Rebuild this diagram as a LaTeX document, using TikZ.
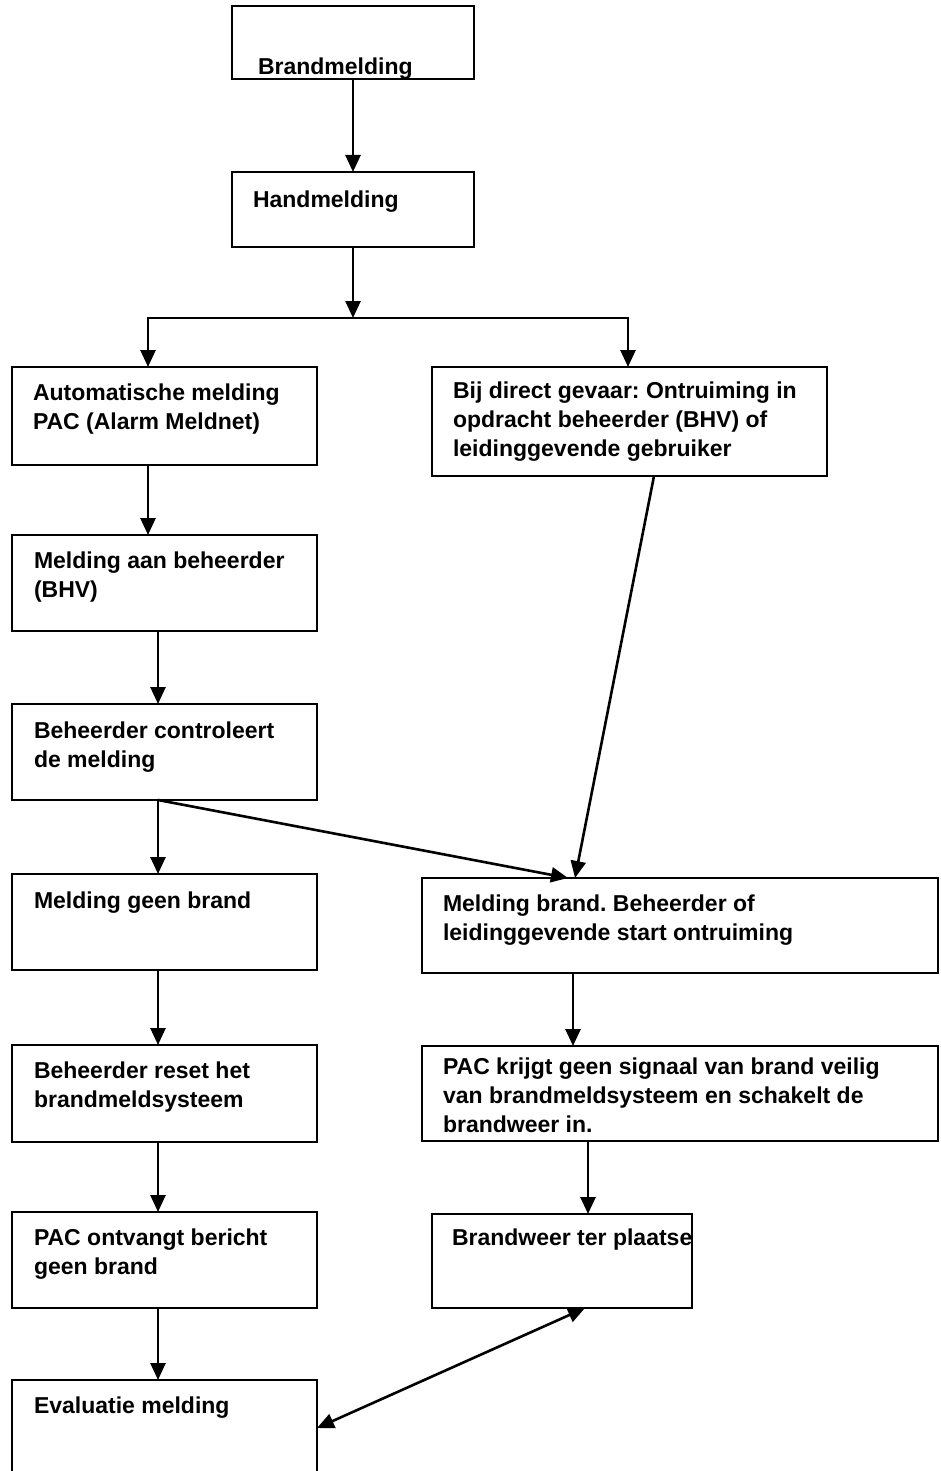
\documentclass[tikz,border=0pt]{standalone}
\usepackage{fontspec}
\setmainfont{Liberation Sans}
\usetikzlibrary{arrows.meta}
\frenchspacing
\begin{document}
\begin{tikzpicture}[x=1pt,y=-1pt,
  box/.style={draw, line width=2pt, rectangle, inner sep=0pt, outer sep=0pt, anchor=north west},
  txt/.style={anchor=base west, inner sep=0pt, outer sep=0pt, align=left, font=\bfseries\fontsize{23}{29}\selectfont\frenchspacing},
  arr/.style={line width=2.6pt, -{Triangle[length=17pt,width=15pt]}},
  dbl/.style={line width=2.6pt, {Triangle[length=17pt,width=15pt]}-{Triangle[length=17pt,width=15pt]}}]
\useasboundingbox[fill=white] (0,0) rectangle (940,1471);
% boxes
\node[box, minimum width=242pt, minimum height=73pt]  (b1)  at (232,6) {};
\node[box, minimum width=242pt, minimum height=75pt]  (b2)  at (232,172) {};
\node[box, minimum width=305pt, minimum height=98pt]  (b3)  at (12,367) {};
\node[box, minimum width=395pt, minimum height=109pt] (b4)  at (432,367) {};
\node[box, minimum width=305pt, minimum height=96pt]  (b5)  at (12,535) {};
\node[box, minimum width=305pt, minimum height=96pt]  (b6)  at (12,704) {};
\node[box, minimum width=305pt, minimum height=96pt]  (b7)  at (12,874) {};
\node[box, minimum width=516pt, minimum height=95pt]  (b8)  at (422,878) {};
\node[box, minimum width=305pt, minimum height=97pt]  (b9)  at (12,1045) {};
\node[box, minimum width=516pt, minimum height=95pt]  (b10) at (422,1046) {};
\node[box, minimum width=305pt, minimum height=96pt]  (b11) at (12,1212) {};
\node[box, minimum width=260pt, minimum height=94pt]  (b12) at (432,1214) {};
\node[box, minimum width=305pt, minimum height=96pt]  (b13) at (12,1380) {};
% texts (anchor = baseline of the last line)
\begin{scope}
\clip (b1.south west) rectangle (b1.north east);
\node[txt] (t1) at (258,75) {Brandmelding};
\end{scope}
\draw[line width=2pt] (b1.south west) -- (b1.south east);
\node[txt] (t2)  at (253,208) {Handmelding};
\node[txt] (t3)  at (33,429) {Automatische melding\\PAC (Alarm Meldnet)};
\node[txt] (t4)  at (453,456) {Bij direct gevaar: Ontruiming in\\opdracht beheerder (BHV) of\\leidinggevende gebruiker};
\node[txt] (t5)  at (34,597) {Melding aan beheerder\\(BHV)};
\node[txt] (t6)  at (34,767) {Beheerder controleert\\de melding};
\node[txt] (t7)  at (34,908) {Melding geen brand};
\node[txt] (t8)  at (443,940) {Melding brand. Beheerder of\\leidinggevende start ontruiming};
\node[txt] (t9)  at (34,1107) {Beheerder reset het\\brandmeldsysteem};
\node[txt] (t10) at (443,1132) {PAC krijgt geen signaal van brand veilig\\van brandmeldsysteem en schakelt de\\brandweer in.};
\node[txt] (t11) at (34,1274) {PAC ontvangt bericht\\geen brand};
\node[txt] (t12) at (452,1245) {Brandweer ter plaatse};
\node[txt] (t13) at (34,1413) {Evaluatie melding};
% helper coordinates
\coordinate (sp) at (353,318);
\coordinate (xa) at (148,0);
\coordinate (xb) at (628,0);
\coordinate (xc) at (158,0);
\coordinate (xd) at (654,0);
\coordinate (xe) at (575,0);
\coordinate (xf) at (568,0);
\coordinate (xg) at (573,0);
\coordinate (xh) at (588,0);
\coordinate (xi) at (585,0);
% connectors
\draw[arr] (b1.south) -- (b2.north);
\draw[arr] (b2.south) -- (sp);
\draw[arr] (sp) -| (b3.north -| xa);
\draw[arr] (sp) -| (b4.north -| xb);
\draw[arr] (b3.south -| xa) -- (b5.north -| xa);
\draw[arr] (b5.south -| xc) -- (b6.north -| xc);
\draw[arr] (b6.south -| xc) -- (b7.north -| xc);
\draw[arr] (b6.south -| xc) -- (b8.north -| xf);
\draw[arr] (b4.south -| xd) -- (b8.north -| xe);
\draw[arr] (b7.south -| xc) -- (b9.north -| xc);
\draw[arr] (b9.south -| xc) -- (b11.north -| xc);
\draw[arr] (b11.south -| xc) -- (b13.north -| xc);
\draw[arr] (b8.south -| xg) -- (b10.north -| xg);
\draw[arr] (b10.south -| xh) -- (b12.north -| xh);
\draw[dbl] (b13.east) -- (b12.south -| xi);
\end{tikzpicture}
\end{document}
